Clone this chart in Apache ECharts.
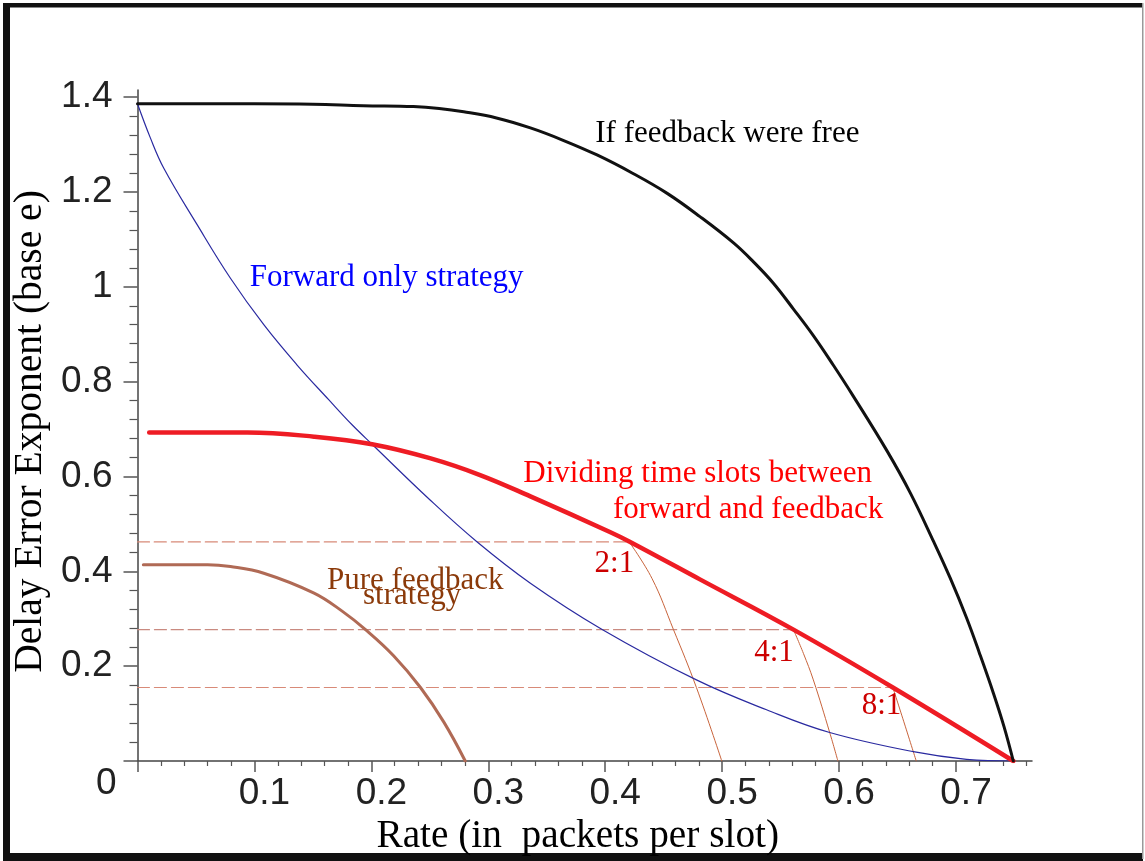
<!DOCTYPE html>
<html>
<head>
<meta charset="utf-8">
<script src="https://cdn.jsdelivr.net/npm/echarts@6/dist/echarts.min.js"></script>
<style>
html,body{margin:0;padding:0;background:#fff;}
#c{width:1145px;height:861px;}
</style>
</head>
<body>
<div id="c"></div>
<script>
// ---- data (rate, exponent) ----
const freeFeedback = [[0,1.386],[0.05,1.386],[0.10,1.386],[0.15,1.385],[0.193,1.382],[0.236,1.380],[0.258,1.376],[0.279,1.369],[0.307,1.356],[0.336,1.335],[0.364,1.309],[0.393,1.278],[0.423,1.240],[0.453,1.197],[0.481,1.148],[0.510,1.092],[0.527,1.052],[0.544,1.007],[0.561,0.953],[0.578,0.897],[0.595,0.835],[0.612,0.770],[0.641,0.654],[0.661,0.565],[0.681,0.462],[0.695,0.386],[0.709,0.302],[0.720,0.228],[0.732,0.143],[0.741,0.073],[0.749,0]];
const forwardOnly = [[0,1.386],[0.011,1.314],[0.0225,1.250],[0.051,1.131],[0.0795,1.018],[0.108,0.920],[0.1365,0.835],[0.1635,0.762],[0.1835,0.709],[0.2006,0.668],[0.250,0.551],[0.290,0.463],[0.336,0.375],[0.397,0.278],[0.478,0.171],[0.538,0.108],[0.592,0.060],[0.6635,0.0196],[0.709,0.0036],[0.75,0]];
const dividing = [[0.01,0.693],[0.05,0.693],[0.094,0.693],[0.151,0.684],[0.2006,0.668],[0.250,0.6386],[0.293,0.603],[0.336,0.558],[0.404,0.483],[0.4205,0.463],[0.481,0.383],[0.561,0.277],[0.646,0.155],[0.749,0]];
const pureFeedback = [[0.005,0.414],[0.06,0.414],[0.0795,0.410],[0.108,0.396],[0.151,0.354],[0.175,0.316],[0.195,0.277],[0.219,0.222],[0.242,0.155],[0.262,0.082],[0.2803,0]];
const ratio21 = [[0.4205,0.462],[0.440,0.385],[0.4584,0.277],[0.478,0.155],[0.4997,0]];
const ratio41 = [[0.561,0.277],[0.5695,0.227],[0.578,0.171],[0.592,0.060],[0.599,0]];
const ratio81 = [[0.646,0.155],[0.656,0.078],[0.666,0]];
const level21 = [[0,0.462],[0.4205,0.462]];
const level41 = [[0,0.277],[0.561,0.277]];
const level81 = [[0,0.155],[0.646,0.155]];

const xTickValues = [0,0.1,0.2,0.3,0.4,0.5,0.6,0.7];
const xLabelValues = [0.1,0.2,0.3,0.4,0.5,0.6,0.7];
const yTickValues = [0,0.2,0.4,0.6,0.8,1.0,1.2,1.4];
const yLabelValues = [0.2,0.4,0.6,0.8,1.0,1.2,1.4];
const yZeroLabel = [0];

// annotations: text, anchor (left edge, vertical middle) in data coords
const annoText = ['If feedback were free','Forward only strategy','Dividing time slots between','forward and feedback','2:1','4:1','8:1','Pure feedback','strategy'];
const annoRate = [0.3915,0.096,0.330,0.4066,0.3909,0.5274,0.6194,0.1621,0.1929];
const annoExp  = [1.3217,1.018,0.606,0.5306,0.416,0.228,0.1156,0.379,0.349];
const annoColor = ['#000000','#0000ff','#ff0000','#ff0000','#cc0000','#cc0000','#cc0000','#8b3a0a','#8b3a0a'];

const serif = "'Liberation Serif','Times New Roman',serif";
const sans = "'Liberation Sans',Arial,sans-serif";

function lineSeries(data, color, width, type, z){
  return {type:'line', data:data, showSymbol:false, symbol:'none', smooth:0.4,
    lineStyle:{color:color,width:width,type:type||'solid',cap:'round'}, silent:true, z:z||2, animation:false};
}

const chart = echarts.init(document.getElementById('c'), null, {renderer:'canvas'});
const fmt = v => String(parseFloat(Number(v).toFixed(1)));

chart.setOption({
  animation:false,
  backgroundColor:'#fff',
  grid:{left:137.5,right:113,top:90,bottom:100,containLabel:false,outerBoundsMode:'none'},
  xAxis:[{
    type:'value',min:0,max:0.765,interval:0.1,
    axisLine:{show:true,onZero:false,lineStyle:{color:'#444',width:1.5}},
    axisTick:{show:true,length:11,customValues:xTickValues,lineStyle:{color:'#555',width:1.5}},
    minorTick:{show:true,splitNumber:5,length:5,lineStyle:{color:'#555',width:1.2}},
    splitLine:{show:false},
    axisLabel:{customValues:xLabelValues,formatter:fmt,fontFamily:sans,fontSize:37,color:'#222',margin:14,padding:[0,0,0,20]},
    name:'Rate (in  packets per slot)',nameLocation:'middle',nameGap:53,
    nameTextStyle:{fontFamily:serif,fontSize:39.3,color:'#000',padding:[0,14,0,0]}
  }],
  yAxis:[{
    type:'value',min:0,max:1.415,interval:0.2,
    axisLine:{show:true,onZero:false,lineStyle:{color:'#444',width:1.5}},
    axisTick:{show:true,length:14,customValues:yTickValues,lineStyle:{color:'#555',width:1.5}},
    minorTick:{show:true,splitNumber:5,length:8,lineStyle:{color:'#555',width:1.2}},
    splitLine:{show:false},
    axisLabel:{customValues:yLabelValues,formatter:fmt,fontFamily:sans,fontSize:37,color:'#222',margin:25,padding:[4,0,0,0]},
    name:'Delay Error Exponent (base e)',nameLocation:'middle',nameGap:83,
    nameTextStyle:{fontFamily:serif,fontSize:39.5,color:'#000',padding:[0,12,0,0]}
  },{
    type:'value',min:0,max:1.415,interval:0.2,position:'left',offset:0,
    axisLine:{show:false,onZero:false},axisTick:{show:false},splitLine:{show:false},minorTick:{show:false},
    axisLabel:{customValues:yZeroLabel,formatter:fmt,fontFamily:sans,fontSize:37,color:'#222',margin:21,verticalAlign:'top',lineHeight:45}
  }],
  graphic:[
    {type:'rect',shape:{x:3,y:3,width:1140,height:4.5},style:{fill:'#111'},silent:true},
    {type:'rect',shape:{x:3,y:3,width:7,height:856},style:{fill:'#111'},silent:true},
    {type:'rect',shape:{x:3,y:853,width:1140,height:8},style:{fill:'#111'},silent:true},
    {type:'rect',shape:{x:1142,y:3,width:1.5,height:856},style:{fill:'#999'},silent:true}
  ],
  series:[
    lineSeries(level21,'#d88a78',1.2,[12,5],1),
    lineSeries(level41,'#c98a80',1.2,[12,5],1),
    lineSeries(level81,'#d88a78',1.2,[12,5],1),
    lineSeries(ratio21,'#c8643c',1,'solid',2),
    lineSeries(ratio41,'#c8643c',1,'solid',2),
    lineSeries(ratio81,'#c8643c',1,'solid',2),
    lineSeries(forwardOnly,'#2a2aa0',1.2,'solid',3),
    lineSeries(pureFeedback,'#b06a55',3,'solid',3),
    lineSeries(dividing,'#ee1c24',4.5,'solid',4),
    lineSeries(freeFeedback,'#111111',3,'solid',5),
    {
      type:'scatter',silent:true,symbolSize:0,itemStyle:{color:'transparent'},z:6,animation:false,
      data:annoText.map((t,i)=>({value:[annoRate[i],annoExp[i]],name:t,
        label:{show:true,position:'right',distance:0,align:'left',verticalAlign:'middle',formatter:t,
          fontFamily:serif,fontSize:31,color:annoColor[i],textBorderWidth:0,opacity:1}}))
    }
  ]
});
</script>
</body>
</html>
